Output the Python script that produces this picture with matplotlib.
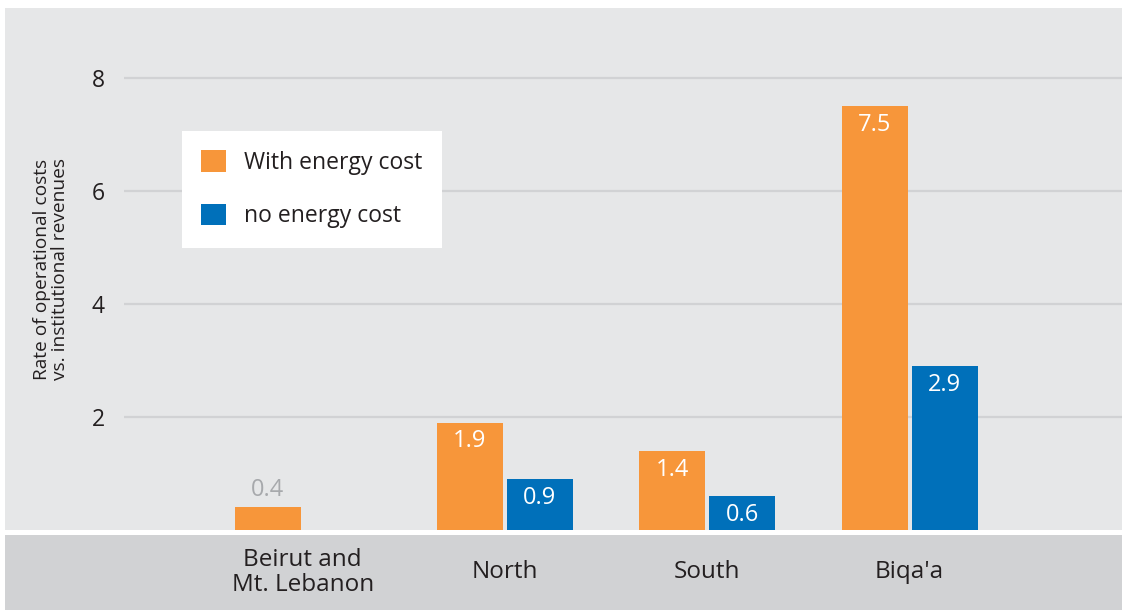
import numpy as np
import matplotlib
matplotlib.use("Agg")
import matplotlib.pyplot as plt
from matplotlib.patches import Patch, Rectangle

plt.rcParams["font.family"] = ["Open Sans", "DejaVu Sans"]

# Data
regions = ["Beirut and\nMt. Lebanon", "North", "South", "Biqa'a"]
with_energy = [0.4, 1.9, 1.4, 7.5]
no_energy = [np.nan, 0.9, 0.6, 2.9]
series_names = ["With energy cost", "no energy cost"]
y_ticks = [2, 4, 6, 8]

ORANGE = "#f7963a"
BLUE = "#0070ba"
PANEL = "#e6e7e8"
BAND = "#d1d2d4"
GRID = "#d1d2d4"
TEXT = "#231f20"

W, H, DPI = 1122, 610, 100
fig = plt.figure(figsize=(W / DPI, H / DPI), dpi=DPI, facecolor="white")

def px_rect(x0, y0_top, x1, y1_top, color):
    # background rectangle given in pixels measured from the top-left corner
    fig.patches.append(Rectangle((x0 / W, 1 - y1_top / H), (x1 - x0) / W,
                                 (y1_top - y0_top) / H, transform=fig.transFigure,
                                 facecolor=color, edgecolor="none", zorder=-5))

px_rect(5, 8, W, 530, PANEL)
px_rect(5, 535, W, H, BAND)

ax_left, ax_right, ax_top, ax_bottom = 124, W, 8, 530
ax = fig.add_axes([ax_left / W, 1 - ax_bottom / H, (ax_right - ax_left) / W,
                   (ax_bottom - ax_top) / H])
ax.set_facecolor("none")
for s in ax.spines.values():
    s.set_visible(False)

x = np.arange(len(regions))
bw = 0.326
off = 0.173
bars_o = ax.bar(x - off, with_energy, bw, color=ORANGE, zorder=3, label=series_names[0])
bars_b = ax.bar(x + off, no_energy, bw, color=BLUE, zorder=3, label=series_names[1])

ax.set_xlim(-0.883, 4.05)
ax.set_ylim(0, 9.23)
ax.set_yticks(y_ticks)
ax.set_yticklabels([str(t) for t in y_ticks], fontsize=16.5, color=TEXT)
ax.yaxis.grid(True, color=GRID, linewidth=1.6, zorder=0)
ax.set_axisbelow(True)
ax.tick_params(axis="y", length=0, pad=14)

ax.set_xticks(x)
ax.set_xticklabels(regions, fontsize=17.5, color=TEXT, linespacing=1.05)
ax.tick_params(axis="x", length=0, pad=30.5)
for lbl in ax.get_xticklabels():
    lbl.set_verticalalignment("center")

ax.set_ylabel("Rate of operational costs\nvs. institutional revenues",
              fontsize=13.8, color=TEXT, linespacing=1.05, labelpad=16)

# Value labels: inside the bar top when there is room, above it otherwise
for bars, vals in ((bars_o, with_energy), (bars_b, no_energy)):
    for b, v in zip(bars, vals):
        if np.isnan(v):
            continue
        cx = b.get_x() + b.get_width() / 2
        if v >= 0.5:
            ax.annotate(f"{v:.1f}", (cx, v), xytext=(0, -5), textcoords="offset points",
                        ha="center", va="top", color="white", fontsize=17, zorder=4)
        else:
            ax.annotate(f"{v:.1f}", (cx, v), xytext=(0, 4), textcoords="offset points",
                        ha="center", va="bottom", color="#a7a9ac", fontsize=17, zorder=4)

handles = [Patch(facecolor=ORANGE, edgecolor="none"), Patch(facecolor=BLUE, edgecolor="none")]
leg = ax.legend(handles, series_names, loc="upper left",
                bbox_to_anchor=(182 / W, 1 - 131 / H), bbox_transform=fig.transFigure,
                fontsize=16.5, frameon=True, fancybox=False, framealpha=1,
                facecolor="white", edgecolor="none", handlelength=1.05,
                handleheight=1.05, handletextpad=0.8, borderpad=0.85,
                labelspacing=1.25, borderaxespad=0)
for t in leg.get_texts():
    t.set_color(TEXT)

fig.savefig("out.png", dpi=DPI, facecolor="white")
